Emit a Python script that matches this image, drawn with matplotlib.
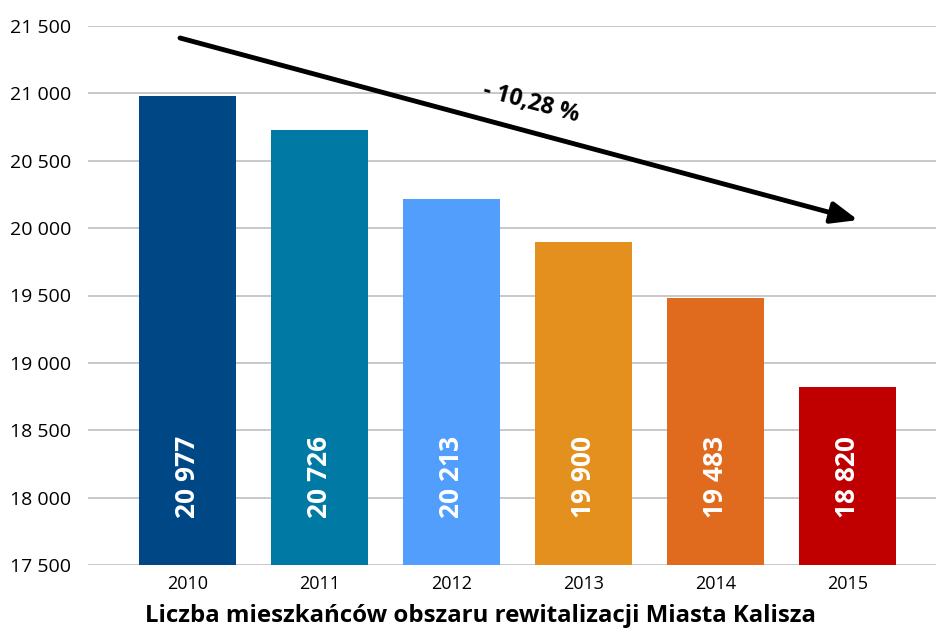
import matplotlib.pyplot as plt
import numpy as np

# Dane
lata = ['2010', '2011', '2012', '2013', '2014', '2015']
mieszkancy = [20977, 20726, 20213, 19900, 19483, 18820]
kolory = ['#004786', '#0079A4', '#529EFC', '#E3901F', '#E06B1F', '#C00000']
zmiana = '- 10,28 %'
tytul = 'Liczba mieszkańców obszaru rewitalizacji Miasta Kalisza'

plt.rcParams['font.family'] = ['Open Sans', 'DejaVu Sans']


def fmt(v):
    return f'{v:,}'.replace(',', ' ')


fig = plt.figure(figsize=(9.36, 6.31), dpi=100)
ax = fig.add_axes([88 / 936, 66 / 631, 848 / 936, 539 / 631])

x = np.arange(len(lata))
ax.bar(x, mieszkancy, width=0.735, color=kolory, zorder=2)

# Etykiety wartości wewnątrz słupków
for xi, v in zip(x, mieszkancy):
    ax.text(xi, 17850, fmt(v), rotation=90, ha='center', va='bottom',
            color='white', fontsize=19, fontweight='bold', zorder=3)

ax.set_ylim(17500, 21500)
ax.set_xlim(-0.754, 5.67)
yt = np.arange(17500, 21501, 500)
ax.set_yticks(yt)
ax.set_yticklabels([fmt(v) for v in yt], fontsize=14)
ax.set_xticks(x)
ax.set_xticklabels(lata, fontsize=13)
ax.tick_params(length=0, pad=7)
ax.tick_params(axis='y', pad=12)
ax.grid(axis='y', color='#BFBFBF', linewidth=1.2, zorder=0)
for s in ax.spines.values():
    s.set_visible(False)

# Strzałka trendu
ax.annotate('', xy=(5.08, 20060), xytext=(-0.057, 21411),
            arrowprops=dict(arrowstyle='-|>,head_length=1.6,head_width=0.65',
                            color='black', lw=3.5, shrinkA=0, shrinkB=0),
            zorder=4)
ax.text(2.6, 20930, zmiana, rotation=-15, ha='center', va='center',
        fontsize=16.5, fontweight='bold', color='black', zorder=4)

fig.text(0.513, 0.024, tytul, ha='center', va='center', fontsize=17.3,
         fontweight='bold')

plt.savefig('out.png', dpi=100)
